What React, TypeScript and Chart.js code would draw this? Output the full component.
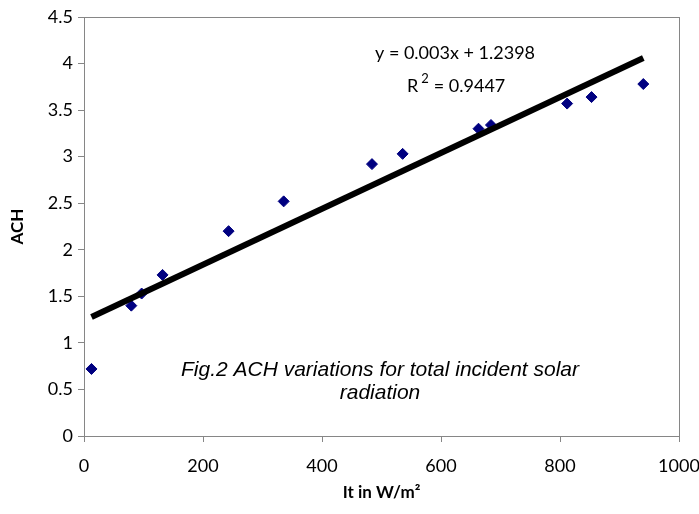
import React, { useEffect, useRef } from "react";
import { Chart, registerables } from "chart.js";

Chart.register(...registerables);

const irradiance = [12.6, 79.5, 96.9, 132, 243, 335.6, 484, 535.5, 663, 684, 812, 853, 940];
const ach = [0.72, 1.4, 1.53, 1.73, 2.2, 2.52, 2.92, 3.03, 3.3, 3.34, 3.57, 3.64, 3.78];
const trendSlope = 0.003;
const trendIntercept = 1.2398;
const trendX = [12.6, 940];
const equationText = "y = 0.003x + 1.2398";
const r2Value = "= 0.9447";
const captionLines = ["Fig.2 ACH variations for total incident solar", "radiation"];

const AXIS_GRAY = "#868686";
const TEXT_FONT = "Lato, 'Liberation Sans', sans-serif";

const overlayPlugin = {
  id: "overlay",
  afterDraw(chart: any) {
    const { ctx, chartArea } = chart;
    ctx.save();
    ctx.strokeStyle = AXIS_GRAY;
    ctx.lineWidth = 1;
    ctx.strokeRect(
      Math.round(chartArea.left) + 0.5,
      Math.round(chartArea.top) + 0.5,
      Math.round(chartArea.right - chartArea.left),
      Math.round(chartArea.bottom - chartArea.top)
    );
    ctx.fillStyle = "#000";
    ctx.textBaseline = "middle";
    ctx.textAlign = "center";
    ctx.font = `18px ${TEXT_FONT}`;
    ctx.fillText(equationText, 455, 53);
    ctx.textAlign = "left";
    let x = 407;
    ctx.fillText("R", x, 86);
    x += ctx.measureText("R").width + 3;
    ctx.font = `13px ${TEXT_FONT}`;
    ctx.fillText("2", x, 79);
    x += ctx.measureText("2").width + 5;
    ctx.font = `18px ${TEXT_FONT}`;
    ctx.fillText(r2Value, x, 86);
    ctx.textAlign = "center";
    ctx.font = `italic 21px 'Liberation Sans', Arial, sans-serif`;
    ctx.fillText(captionLines[0], 380, 370);
    ctx.fillText(captionLines[1], 380, 393);
    ctx.restore();
  },
};

export default function App() {
  const canvasRef = useRef<HTMLCanvasElement | null>(null);

  useEffect(() => {
    document.body.style.margin = "0";
    const canvas = canvasRef.current;
    if (!canvas) return;
    const points = irradiance.map((v, i) => ({ x: v, y: ach[i] }));
    const trend = trendX.map((v) => ({ x: v, y: trendSlope * v + trendIntercept }));
    const chart = new Chart(canvas, {
      type: "scatter",
      data: {
        datasets: [
          {
            type: "line",
            label: "Trend",
            data: trend,
            borderColor: "#000",
            borderWidth: 6,
            pointRadius: 0,
            fill: false,
            borderCapStyle: "butt",
          } as any,
          {
            label: "ACH",
            data: points,
            pointStyle: "rectRot",
            pointRadius: 5.5,
            backgroundColor: "#000080",
            borderColor: "#000080",
            borderWidth: 1,
          },
        ],
      },
      options: {
        animation: false,
        responsive: false,
        maintainAspectRatio: false,
        layout: { padding: { top: 17, right: 20, left: 0, bottom: 0 } },
        plugins: {
          legend: { display: false },
          tooltip: { enabled: false },
        },
        scales: {
          x: {
            type: "linear",
            min: 0,
            max: 1000,
            ticks: {
              stepSize: 200,
              color: "#000",
              padding: 13,
              font: { family: TEXT_FONT, size: 18 },
              maxRotation: 0,
              callback: (v: any) => String(v),
            },
            grid: { drawOnChartArea: false, drawTicks: true, tickLength: 6, color: AXIS_GRAY },
            border: { color: AXIS_GRAY },
            title: {
              display: true,
              text: "It in W/m²",
              color: "#000",
              font: { family: TEXT_FONT, size: 17, weight: "bold" },
              padding: { top: 0, bottom: 11 },
            },
            afterFit: (scale: any) => {
              scale.height = 78;
              scale.paddingRight = 0;
              scale.paddingLeft = 0;
            },
          },
          y: {
            type: "linear",
            min: 0,
            max: 4.5,
            ticks: {
              stepSize: 0.5,
              color: "#000",
              padding: 5,
              font: { family: TEXT_FONT, size: 18 },
              callback: (v: any) => String(v),
            },
            grid: { drawOnChartArea: false, drawTicks: true, tickLength: 6, color: AXIS_GRAY },
            border: { color: AXIS_GRAY },
            title: {
              display: true,
              text: "ACH",
              color: "#000",
              font: { family: TEXT_FONT, size: 17, weight: "bold" },
              padding: { top: 7, bottom: 0 },
            },
            afterFit: (scale: any) => {
              scale.width = 84;
            },
          },
        },
      },
      plugins: [overlayPlugin],
    });
    return () => chart.destroy();
  }, []);

  return (
    <div style={{ width: 699, height: 514, background: "#fff" }}>
      <canvas ref={canvasRef} width={699} height={514} style={{ display: "block" }} />
    </div>
  );
}
